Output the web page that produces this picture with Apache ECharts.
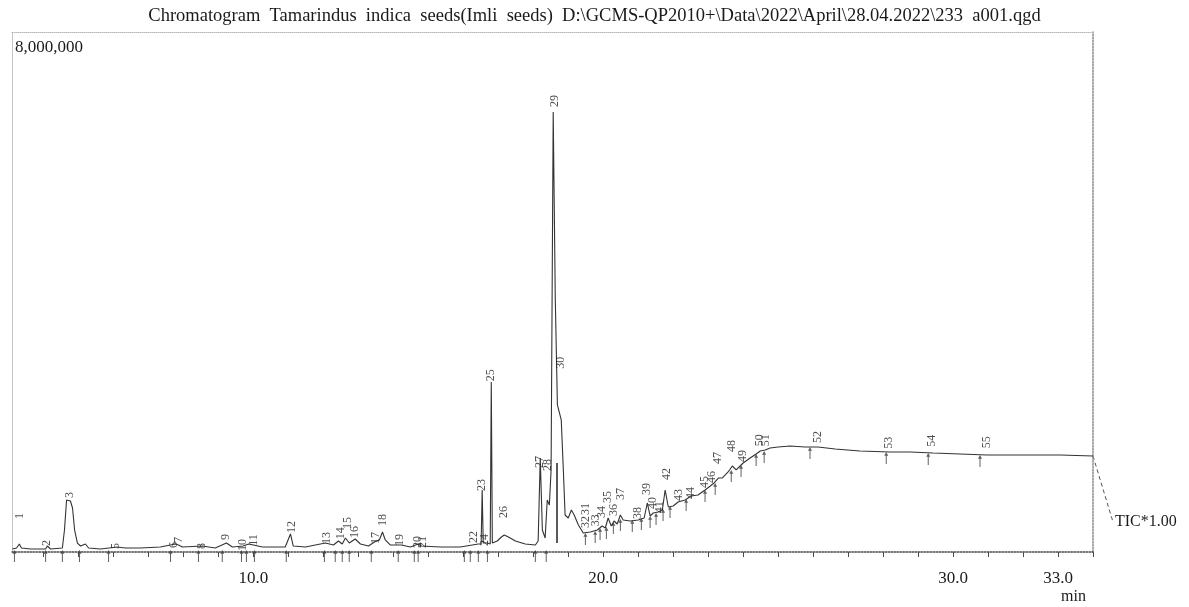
<!DOCTYPE html>
<html>
<head>
<meta charset="utf-8">
<script src="https://cdn.jsdelivr.net/npm/echarts@6/dist/echarts.min.js"></script>
<style>
  html, body { margin: 0; padding: 0; background: #fff; }
  #chart { width: 1189px; height: 607px; }
</style>
</head>
<body>
<div id="chart"></div>
<script>
// Total ion chromatogram: retention time (min) and intensity (counts)
const retentionTimes = [
  3.11, 3.23, 3.31, 3.37, 3.63, 4.06, 4.11, 4.20, 4.54, 4.60, 4.66, 4.71, 4.77, 4.83, 4.89, 4.97,
  5.06, 5.20, 5.29, 5.63, 6.11, 6.34, 6.77, 7.34, 7.77, 7.86, 7.97, 8.54, 8.91, 9.23, 9.40, 9.71,
  9.86, 10.00, 10.26, 10.91, 11.06, 11.14, 11.49, 11.77, 12.06, 12.29, 12.43, 12.54, 12.63, 12.74,
  12.91, 13.06, 13.29, 13.46, 13.60, 13.69, 13.77, 13.91, 14.23, 14.49, 14.71, 14.80, 15.34, 15.91,
  16.26, 16.43, 16.51, 16.54, 16.57, 16.69, 16.77, 16.80, 16.83, 16.97, 17.09, 17.17, 17.29, 17.49,
  17.77, 18.06, 18.14, 18.20, 18.26, 18.34, 18.40, 18.46, 18.51, 18.57, 18.63, 18.69, 18.74, 18.80,
  18.86, 18.91, 19.00, 19.09, 19.17, 19.29, 19.43, 19.63, 19.83, 19.97, 20.06, 20.14, 20.23, 20.31,
  20.40, 20.49, 20.57, 20.77, 21.00, 21.17, 21.26, 21.34, 21.43, 21.57, 21.69, 21.77, 21.86, 22.00,
  22.14, 22.34, 22.51, 22.71, 22.91, 23.06, 23.17, 23.29, 23.40, 23.57, 23.69, 23.80, 24.00, 24.20,
  24.37, 24.49, 24.63, 24.77, 25.00, 25.34, 25.77, 26.14, 26.63, 27.34, 28.20, 28.77, 29.43, 30.20,
  30.97, 31.91, 33.06, 34.00
];
const intensities = [
  46000, 62000, 123000, 62000, 46000, 46000, 92000, 46000, 62000, 338000, 800000, 815000, 785000, 677000, 338000, 138000,
  92000, 123000, 62000, 46000, 77000, 62000, 62000, 77000, 123000, 108000, 77000, 92000, 62000, 138000, 77000, 92000,
  123000, 108000, 77000, 77000, 277000, 92000, 77000, 108000, 138000, 108000, 169000, 123000, 215000, 138000,
  200000, 123000, 92000, 154000, 185000, 308000, 185000, 108000, 108000, 77000, 123000, 92000, 77000, 77000,
  108000, 123000, 123000, 954000, 138000, 138000, 123000, 2615000, 138000, 169000, 231000, 262000, 231000, 169000,
  123000, 108000, 169000, 1446000, 338000, 215000, 800000, 723000, 1262000, 6769000, 3877000, 2262000, 2292000, 2031000,
  1262000, 569000, 523000, 646000, 569000, 415000, 292000, 308000, 338000, 400000, 369000, 523000, 400000, 477000,
  431000, 569000, 492000, 477000, 492000, 523000, 754000, 554000, 600000, 615000, 646000, 954000, 692000, 708000,
  769000, 800000, 862000, 877000, 954000, 1015000, 1062000, 1138000, 1138000, 1231000, 1323000, 1262000, 1369000, 1446000,
  1508000, 1554000, 1569000, 1600000, 1615000, 1631000, 1615000, 1615000, 1585000, 1554000, 1538000, 1538000, 1523000, 1508000,
  1492000, 1492000, 1492000, 1477000
];

// Peak numbers, their retention times and the height where each number is printed
const peakNumbers = [
  '1', '2', '3', '5', '6', '7', '8', '9', '10', '11', '12', '13', '14', '15', '16', '17', '18', '19', '20', '21',
  '22', '23', '24', '25', '26', '27', '28', '29', '30', '31', '32', '33', '34', '35', '36', '37', '38', '39', '40',
  '41', '42', '43', '44', '45', '46', '47', '48', '49', '50', '51', '52', '53', '54', '55'
];
const peakTimes = [
  3.31, 4.11, 4.74, 6.06, 7.74, 7.86, 8.54, 9.20, 9.71, 10.00, 11.11, 12.11, 12.49, 12.71, 12.91, 13.49, 13.71, 14.20, 14.69, 14.83,
  16.29, 16.54, 16.63, 16.80, 17.17, 18.20, 18.43, 18.63, 18.80, 19.49, 19.49, 19.80, 19.97, 20.14, 20.31, 20.49, 21.00, 21.26, 21.43,
  21.63, 21.83, 22.17, 22.51, 22.91, 23.11, 23.29, 23.69, 24.00, 24.49, 24.66, 26.14, 28.17, 29.40, 30.97
];
const peakLabelHeights = [
  554000, 138000, 877000, 92000, 108000, 185000, 92000, 231000, 108000, 185000, 385000, 215000, 290000, 446000, 308000, 215000, 492000, 185000, 154000, 154000,
  231000, 1030000, 185000, 2720000, 615000, 1385000, 1340000, 6940000, 2910000, 660000, 460000, 490000, 615000, 846000, 646000, 892000, 600000, 969000, 754000,
  690000, 1200000, 877000, 908000, 1077000, 1154000, 1446000, 1630000, 1477000, 1720000, 1720000, 1770000, 1680000, 1710000, 1690000
];

// Integration start/end arrows (tip position)
const arrowTimes = [
  3.17, 4.06, 4.54, 5.03, 5.86, 7.63, 8.43, 9.11, 9.66, 9.80, 10.03, 10.94, 12.03, 12.34, 12.54, 12.74, 13.37, 14.14, 14.60, 14.71,
  16.03, 16.20, 16.43, 16.69, 18.06, 18.37,
  19.49, 19.77, 19.91, 20.09, 20.29, 20.49, 20.83, 21.09, 21.34, 21.51, 21.71, 21.91, 22.37, 22.91, 23.20, 23.66, 23.94, 24.37, 24.60,
  25.91, 28.09, 29.29, 30.77
];
const arrowHeights = [
  30000, 30000, 30000, 30000, 30000, 30000, 30000, 30000, 30000, 30000, 30000, 30000, 30000, 30000, 30000, 30000, 30000, 30000, 30000, 30000,
  30000, 30000, 30000, 30000, 30000, 30000,
  292000, 323000, 369000, 385000, 462000, 508000, 492000, 523000, 554000, 600000, 662000, 708000, 815000, 954000, 1062000, 1262000, 1338000, 1508000, 1554000,
  1615000, 1538000, 1523000, 1492000
];

// Vertical marker drawn under peak 28: time, bottom, top
const markerBarTime = 18.66;
const markerBarRange = [140000, 1370000];

// Axis ticks and labels
const minuteTicks = [4, 5, 6, 7, 8, 9, 10, 11, 12, 13, 14, 15, 16, 17, 18, 19, 20, 21, 22, 23, 24, 25, 26, 27, 28, 29, 30, 31, 32, 33, 34];
const timeTickLabels = [10, 20, 30, 33];
const intensityTickLabels = [8000000];

const serif = '"Liberation Serif", "DejaVu Serif", serif';

const chart = echarts.init(document.getElementById('chart'), null, { renderer: 'canvas' });

const ticData = retentionTimes.map((t, i) => [t, intensities[i]]);
const peakLabelData = peakNumbers.map((n, i) => ({ name: n, value: [peakTimes[i], peakLabelHeights[i]] }));
const arrowData = arrowTimes.map((t, i) => [t, arrowHeights[i]]);

const option = {
  animation: false,
  backgroundColor: '#ffffff',
  title: {
    text: 'Chromatogram  Tamarindus  indica  seeds(Imli  seeds)  D:\\GCMS-QP2010+\\Data\\2022\\April\\28.04.2022\\233  a001.qgd',
    left: 'center',
    top: 2,
    textStyle: { fontFamily: serif, fontSize: 18.5, fontWeight: 'normal', color: '#1a1a1a' }
  },
  grid: { left: 12, right: 96, top: 32, bottom: 55, containLabel: false },
  xAxis: [
    {
      type: 'value',
      position: 'bottom',
      min: 3.1,
      max: 34.0,
      splitLine: { show: false },
      axisLine: { show: true, onZero: false, lineStyle: { color: '#4a4a4a', width: 1.5, type: 'dotted' } },
      axisTick: { show: true, customValues: minuteTicks, length: 5, lineStyle: { color: '#4a4a4a' } },
      axisLabel: {
        customValues: timeTickLabels,
        formatter: v => v.toFixed(1),
        margin: 18,
        fontFamily: serif,
        fontSize: 17,
        color: '#1a1a1a'
      }
    },
    {
      type: 'value',
      position: 'top',
      min: 3.1,
      max: 34.0,
      splitLine: { show: false },
      axisLine: { show: true, onZero: false, lineStyle: { color: '#b8b8b8', width: 1, type: 'dotted' } },
      axisTick: { show: false },
      axisLabel: { show: false }
    }
  ],
  yAxis: [
    {
      type: 'value',
      position: 'left',
      min: 0,
      max: 8000000,
      splitLine: { show: false },
      axisLine: { show: true, onZero: false, lineStyle: { color: '#b8b8b8', width: 1, type: 'dotted' } },
      axisTick: { show: false },
      axisLabel: {
        inside: true,
        customValues: intensityTickLabels,
        formatter: v => v.toLocaleString('en-US'),
        verticalAlign: 'top',
        padding: [7, 0, 0, 0],
        margin: 3,
        fontFamily: serif,
        fontSize: 17,
        color: '#1a1a1a'
      }
    },
    {
      type: 'value',
      position: 'right',
      min: 0,
      max: 8000000,
      splitLine: { show: false },
      axisLine: { show: true, onZero: false, lineStyle: { color: '#8a8a8a', width: 1.5, type: 'dotted' } },
      axisTick: { show: false },
      axisLabel: { show: false }
    }
  ],
  series: [
    {
      name: 'TIC',
      type: 'line',
      data: ticData,
      showSymbol: false,
      symbol: 'none',
      lineStyle: { color: '#333', width: 1.1 },
      markLine: {
        silent: true,
        symbol: 'none',
        label: { show: false },
        lineStyle: { color: '#222', width: 1.5, type: 'solid' },
        data: [[{ coord: [markerBarTime, markerBarRange[0]] }, { coord: [markerBarTime, markerBarRange[1]] }]]
      },
      z: 3
    },
    {
      name: 'Peak arrows',
      type: 'scatter',
      data: arrowData,
      symbol: 'path://M5,0 L9,5 L6,5 L6,16 L4,16 L4,5 L1,5 Z',
      symbolSize: [4, 12],
      symbolKeepAspect: false,
      symbolOffset: [0, 6],
      itemStyle: { color: '#3a3a3a' },
      z: 2
    },
    {
      name: 'Peak numbers',
      type: 'scatter',
      data: peakLabelData,
      symbolSize: 1,
      itemStyle: { color: 'rgba(0,0,0,0)' },
      label: {
        show: true,
        formatter: p => p.name,
        position: 'inside',
        rotate: 90,
        fontFamily: serif,
        fontSize: 12,
        color: '#222'
      },
      labelLayout: { hideOverlap: false },
      z: 4
    }
  ]
};

chart.setOption(option);

// Trace end marker leading to the TIC scale note
const lastPt = chart.convertToPixel({ xAxisIndex: 0, yAxisIndex: 0 }, ticData[ticData.length - 1]);
chart.setOption({
  graphic: [
    {
      type: 'line',
      shape: { x1: lastPt[0], y1: lastPt[1], x2: lastPt[0] + 20, y2: lastPt[1] + 66 },
      style: { stroke: '#555', lineWidth: 1, lineDash: [4, 3] }
    },
    {
      type: 'text',
      x: lastPt[0] + 22,
      y: lastPt[1] + 66,
      style: { text: 'TIC*1.00', font: '16px ' + serif, fill: '#1a1a1a', textVerticalAlign: 'middle' }
    },
    {
      type: 'text',
      x: 1061,
      y: 597,
      style: { text: 'min', font: '16px ' + serif, fill: '#1a1a1a', textVerticalAlign: 'middle' }
    }
  ]
});
</script>
</body>
</html>
